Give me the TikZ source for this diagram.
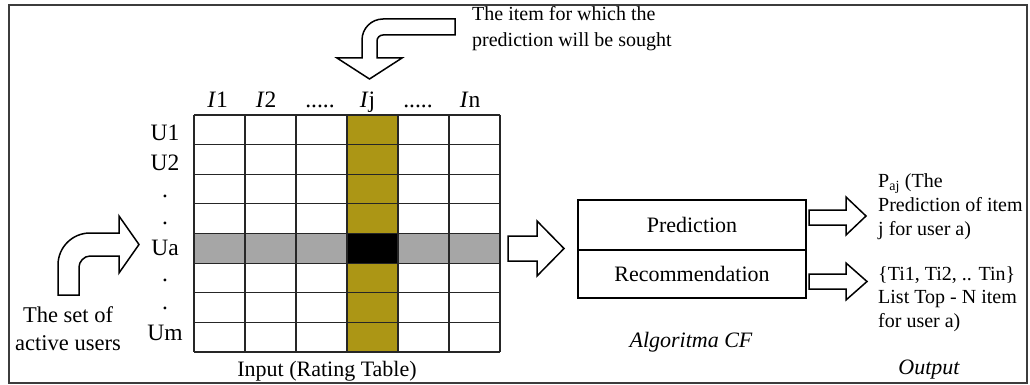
\documentclass[tikz,border=0pt]{standalone}
\usepackage{fontspec}
\setmainfont{Liberation Serif}
\definecolor{cellolive}{RGB}{172,150,21}
\definecolor{cellgray}{RGB}{166,166,166}
\definecolor{framegray}{RGB}{60,60,60}
\begin{document}
\begin{tikzpicture}[x=1pt,y=-1pt,
  frame/.style={draw=framegray,line width=1.3pt},
  gridline/.style={draw=black!85,line width=1.1pt},
  blockarrow/.style={draw=black,line width=1.5pt,fill=white,line join=miter},
  lbl/.style={inner sep=0pt,anchor=base,font=\fontsize{22}{26}\selectfont},
  hdr/.style={inner sep=0pt,anchor=base,font=\fontsize{23.5}{28}\selectfont},
  rtxt/.style={inner sep=0pt,anchor=base west,font=\fontsize{20}{24}\selectfont},
  ttxt/.style={inner sep=0pt,anchor=base west,font=\fontsize{20}{24}\selectfont},
  algbox/.style={draw=black,line width=2pt,minimum width=228pt,inner sep=0pt,font=\fontsize{22}{26}\selectfont}
]
\useasboundingbox (0,0) rectangle (1030,385);
\draw[frame] (9,5) rectangle (1027,383);

% rating table
\fill[cellolive] (347,115) rectangle (398,352);
\fill[cellgray] (194,233.5) rectangle (500,263.1);
\fill[black] (347,233.5) rectangle (398,263.1);
\foreach \i in {0,...,6} \draw[gridline] ({194+51*\i},115) -- ({194+51*\i},352);
\foreach \j in {0,...,8} \draw[gridline] (194,{115+29.625*\j}) -- (500,{115+29.625*\j});

% column labels
\node[hdr] (c1) at (217.5,108) {\textit{I}1};
\node[hdr] (c2) at (266,108) {\textit{I}2};
\node[hdr] (c3) at (320,108) {.....};
\node[hdr] (cj) at (367.5,108) {\textit{I}j};
\node[hdr] (c5) at (418,108) {.....};
\node[hdr] (cn) at (470,108) {\textit{I}n};

% row labels
\node[hdr] (r1) at (165,140) {U1};
\node[hdr] (r2) at (165,170) {U2};
\node[hdr] (r3) at (165,197) {.};
\node[hdr] (r4) at (165,224) {.};
\node[hdr] (ra) at (165,255) {Ua};
\node[hdr] (r6) at (165,281) {.};
\node[hdr] (r7) at (165,309) {.};
\node[hdr] (rm) at (165,340) {Um};

\node[lbl] (input) at (327,376) {Input (Rating Table)};

% left bent arrow and its text
\draw[blockarrow] (58,295) -- (58,265) .. controls (58,247.3) and (72.3,233) .. (90,233)
  -- (119,233) -- (119,216) -- (139,244.5) -- (119,273) -- (119,256) -- (90,256)
  .. controls (83.9,256) and (79,261.9) .. (79,267) -- (79,295) -- cycle;
\node[lbl,font=\fontsize{22.5}{27}\selectfont] (set1) at (68,322) {The set of};
\node[lbl,font=\fontsize{22.5}{27}\selectfont] (set2) at (68,350) {active users};

% top bent arrow and its text
\draw[blockarrow] (455,19) -- (383,19) .. controls (371.4,19) and (362,28.4) .. (362,40)
  -- (362,58) -- (337,58) -- (369.5,79) -- (402,58) -- (377,58) -- (377,41)
  .. controls (377,37.7) and (379.7,35) .. (383,35) -- (455,35) -- cycle;
\node[ttxt] (item1) at (472,21) {The item for which the};
\node[ttxt] (item2) at (472,46.5) {prediction will be sought};

% middle arrow
\draw[blockarrow] (508,236) -- (537,236) -- (537,221) -- (564,248.5) -- (537,276)
  -- (537,261) -- (508,261) -- cycle;

% algorithm box
\node[algbox,minimum height=50pt] (pred) at (692,225) {Prediction};
\node[algbox,minimum height=48pt] (rec) at (692,274) {Recommendation};
\node[lbl,font=\fontsize{22}{26}\selectfont\itshape] (alg) at (691,347) {Algoritma CF};

% output arrows
\draw[blockarrow] (809,210) -- (846,210) -- (846,197) -- (866,216) -- (846,235)
  -- (846,225) -- (809,225) -- cycle;
\draw[blockarrow] (809,274) -- (846,274) -- (846,263) -- (867,281.5) -- (846,300)
  -- (846,289) -- (809,289) -- cycle;

% output texts
\node[rtxt] (o1) at (878,187) {P\textsubscript{aj} (The};
\node[rtxt] (o2) at (878,211) {Prediction of item};
\node[rtxt] (o3) at (878,235) {j for user a)};
\node[rtxt] (o4) at (878,280) {\{Ti1, Ti2, .. Tin\}};
\node[rtxt] (o5) at (878,303.5) {List Top - N item};
\node[rtxt] (o6) at (878,327) {for user a)};
\node[lbl,font=\fontsize{22}{26}\selectfont\itshape] (out) at (929,374) {Output};
\end{tikzpicture}
\end{document}
